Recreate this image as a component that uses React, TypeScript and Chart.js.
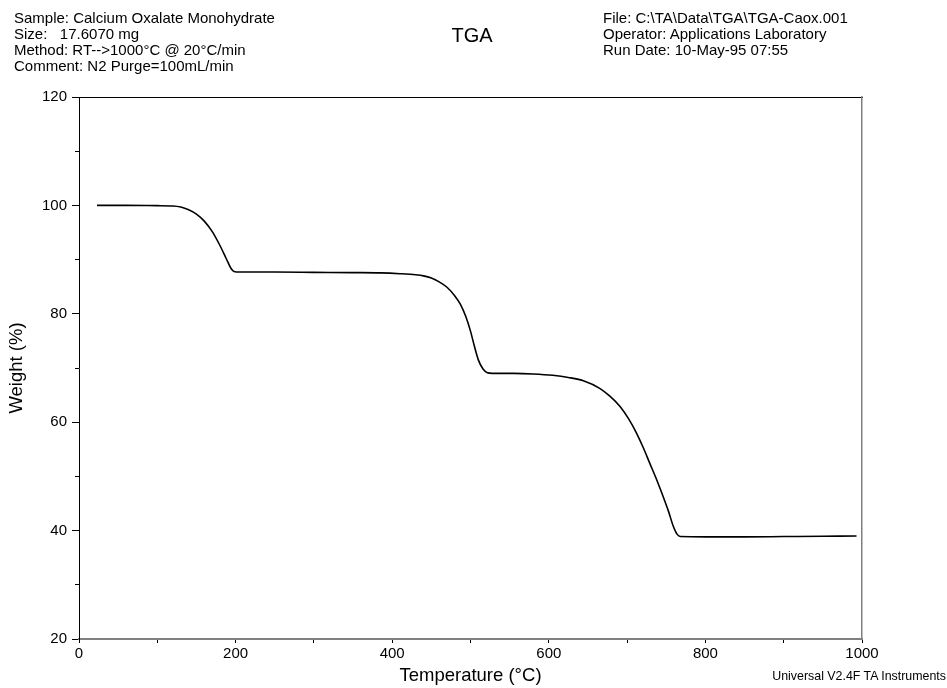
import React, { useEffect, useRef } from "react";
import { Chart, registerables } from "chart.js";

Chart.register(...registerables);

// Temperature (°C) and weight (%)
const temperatureC = [
  23, 60, 100, 120, 130, 140, 150, 160, 170, 180, 188, 194, 198, 205, 250, 300,
  350, 385, 410, 430, 440, 450, 460, 470, 480, 487, 494, 500, 505, 510, 516, 522,
  535, 555, 580, 605, 625, 645, 665, 678, 691, 702, 712, 721, 729, 738, 746, 753,
  759, 764, 768, 800, 850, 900, 950, 993,
];
const weightPct = [
  100.0, 100.0, 99.95, 99.9, 99.7, 99.2, 98.4, 97.1, 95.2, 92.6, 90.2, 88.4, 87.8,
  87.7, 87.7, 87.65, 87.6, 87.55, 87.4, 87.2, 87.0, 86.6, 85.9, 84.9, 83.3, 81.8,
  79.5, 76.8, 74.0, 71.5, 69.8, 69.1, 69.0, 69.0, 68.9, 68.65, 68.25, 67.6, 66.25,
  64.8, 62.9, 60.6, 58.0, 55.2, 52.4, 49.3, 46.3, 43.5, 40.8, 39.3, 38.9, 38.85,
  38.85, 38.9, 38.95, 39.0,
];

const xLabeledTicks = [0, 200, 400, 600, 800, 1000];
const yLabeledTicks = [20, 40, 60, 80, 100, 120];

const headerLeft = [
  "Sample: Calcium Oxalate Monohydrate",
  "Size:   17.6070 mg",
  "Method: RT-->1000°C @ 20°C/min",
  "Comment: N2 Purge=100mL/min",
];
const headerRight = [
  "File: C:\\TA\\Data\\TGA\\TGA-Caox.001",
  "Operator: Applications Laboratory",
  "Run Date: 10-May-95 07:55",
];
const chartTitle = "TGA";
const footer = "Universal V2.4F TA Instruments";
const xTitle = "Temperature (°C)";
const yTitle = "Weight (%)";

const FONT = "Arial, 'Liberation Sans', sans-serif";

export default function App() {
  const ref = useRef<HTMLCanvasElement>(null);

  useEffect(() => {
    const canvas = ref.current;
    if (!canvas) return;
    const chart = new Chart(canvas, {
      type: "line",
      data: {
        datasets: [
          {
            data: temperatureC.map((t, i) => ({ x: t, y: weightPct[i] })),
            borderColor: "#000",
            borderWidth: 1.6,
            pointRadius: 0,
            cubicInterpolationMode: "monotone",
            fill: false,
          },
        ],
      },
      options: {
        animation: false,
        responsive: false,
        devicePixelRatio: 1,
        layout: { padding: { top: 97, right: 85, left: 0, bottom: 0 } },
        plugins: { legend: { display: false }, tooltip: { enabled: false } },
        scales: {
          x: {
            type: "linear",
            position: "bottom",
            min: 0,
            max: 1000,
            ticks: {
              stepSize: 100,
              autoSkip: false,
              maxRotation: 0,
              color: "#000",
              padding: 2,
              font: { family: FONT, size: 15 },
              callback: (v: any) => (xLabeledTicks.includes(Number(v)) ? String(v) : ""),
            },
            grid: { drawOnChartArea: false, drawTicks: true, tickLength: 4, tickColor: "#000" },
            border: { color: "#808080", width: 2 },
            title: {
              display: true,
              text: xTitle,
              color: "#000",
              font: { family: FONT, size: 18.5 },
              padding: { top: 0, bottom: 1 },
            },
            afterFit: (s: any) => {
              s.height = 49;
            },
          },
          xTop: {
            type: "linear",
            position: "top",
            min: 0,
            max: 1000,
            ticks: { display: false },
            grid: { drawOnChartArea: false, drawTicks: false },
            border: { color: "#000", width: 1 },
            afterFit: (s: any) => {
              s.height = 0;
            },
          },
          y: {
            type: "linear",
            position: "left",
            weight: 1,
            min: 20,
            max: 120,
            ticks: {
              stepSize: 20,
              color: "#000",
              padding: 5,
              font: { family: FONT, size: 15 },
              callback: (v: any) => (yLabeledTicks.includes(Number(v)) ? String(v) : ""),
            },
            grid: { drawOnChartArea: false, drawTicks: true, tickLength: 7, tickColor: "#000" },
            border: { color: "#000", width: 1 },
            title: {
              display: true,
              text: yTitle,
              color: "#000",
              font: { family: FONT, size: 18.5 },
              padding: { top: 6, bottom: 0 },
            },
            afterFit: (s: any) => {
              s.width = 79;
            },
          },
          yMinor: {
            type: "linear",
            position: "left",
            weight: 0,
            min: 20,
            max: 120,
            ticks: { display: false, stepSize: 10 },
            grid: { drawOnChartArea: false, drawTicks: true, tickLength: 4, tickColor: "#000" },
            border: { display: false },
            afterFit: (s: any) => {
              s.width = 0;
            },
          },
          yRight: {
            type: "linear",
            position: "right",
            min: 20,
            max: 120,
            ticks: { display: false },
            grid: { drawOnChartArea: false, drawTicks: false },
            border: { color: "#808080", width: 1.5 },
            afterFit: (s: any) => {
              s.width = 0;
            },
          },
        },
      } as any,
    });
    return () => chart.destroy();
  }, []);

  const lineStyle: React.CSSProperties = {
    fontSize: 15,
    lineHeight: "15.9px",
    whiteSpace: "pre",
  };

  return (
    <div
      style={{
        position: "absolute",
        left: 0,
        top: 0,
        width: 947,
        height: 688,
        background: "#fff",
        fontFamily: FONT,
        color: "#000",
        overflow: "hidden",
      }}
    >
      <canvas ref={ref} width={947} height={688} style={{ position: "absolute", left: 0, top: 0 }} />
      <div style={{ position: "absolute", left: 14, top: 10 }}>
        {headerLeft.map((t, i) => (
          <div key={i} style={lineStyle}>
            {t}
          </div>
        ))}
      </div>
      <div style={{ position: "absolute", left: 603, top: 10 }}>
        {headerRight.map((t, i) => (
          <div key={i} style={lineStyle}>
            {t}
          </div>
        ))}
      </div>
      <div
        style={{
          position: "absolute",
          left: 372,
          width: 200,
          top: 25,
          textAlign: "center",
          fontSize: 20,
          lineHeight: "20px",
        }}
      >
        {chartTitle}
      </div>
      <div
        style={{
          position: "absolute",
          right: 1,
          top: 670,
          fontSize: 12.4,
          lineHeight: "12.4px",
          whiteSpace: "pre",
        }}
      >
        {footer}
      </div>
    </div>
  );
}
